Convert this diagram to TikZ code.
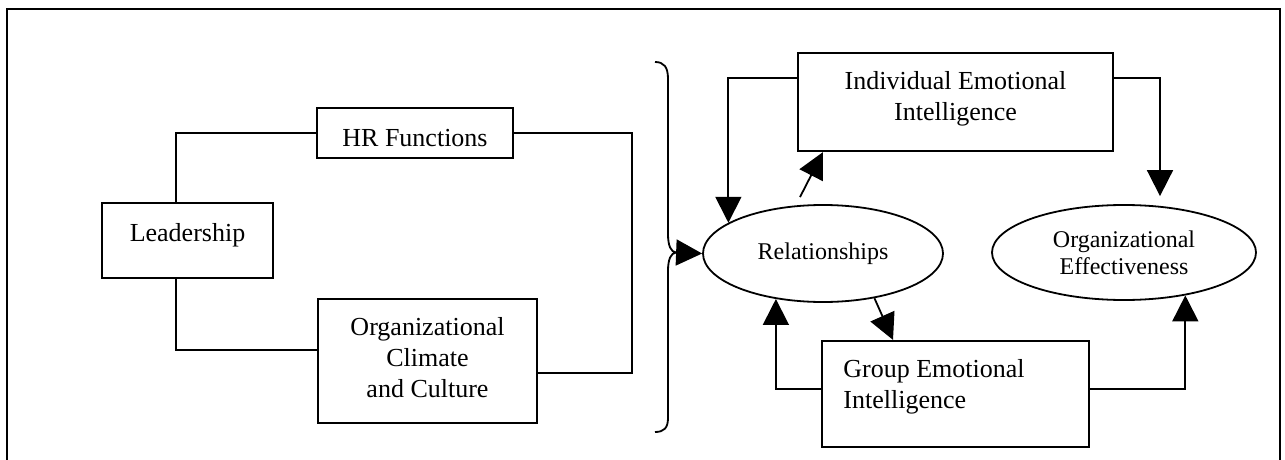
\documentclass[tikz,border=0pt]{standalone}
\usepackage{fontspec}
\setmainfont{Liberation Serif}
\usetikzlibrary{arrows.meta,shapes.geometric}

\tikzset{
  boxnode/.style={draw, line width=1.1pt, rectangle, inner sep=0pt},
  ovalnode/.style={draw, line width=0.9pt, ellipse, inner sep=0pt, align=center,
                   font=\fontsize{12}{13.5}\selectfont},
  % multi-line texts are placed by the baseline of their last line
  boxtext/.style={inner sep=0pt, anchor=base, align=center,
                  font=\fontsize{13}{15.3}\selectfont},
  link/.style={line width=0.9pt},
  arrowlink/.style={line width=0.9pt, -{Triangle[length=13pt,width=13pt]}},
  frameline/.style={line width=1.2pt},
}

\begin{document}
\begin{tikzpicture}[x=0.5pt,y=-0.5pt]
  \useasboundingbox (0,0) rectangle (1285,460);

  % outer frame, open at the bottom
  \draw[frameline] (7,470) -- (7,9) -- (1280,9) -- (1280,470);

  % left-hand boxes
  \node[boxnode, minimum width=85.5pt, minimum height=37.5pt] (lead) at (187.5,240.5) {};
  \node[boxtext] (leadtext) at (187.5,242) {Leadership};

  \node[boxnode, minimum width=98pt, minimum height=25pt] (hr) at (415,133) {};
  \node[boxtext] (hrtext) at (415,147) {HR Functions};

  \node[boxnode, minimum width=109.5pt, minimum height=62pt] (org) at (427.5,361) {};
  \node[boxtext] (orgtext) at (427.5,397) {Organizational\\Climate\\and Culture};

  % right-hand boxes and ellipses
  \node[boxnode, minimum width=157.5pt, minimum height=49pt] (iei) at (955.5,102) {};
  \node[boxtext] (ieitext) at (955.5,120) {Individual Emotional\\Intelligence};

  \node[boxnode, minimum width=133.5pt, minimum height=53pt] (grp) at (955.5,394) {};
  \node[boxtext, anchor=base west, align=left] (grptext) at (843,408) {Group Emotional\\Intelligence};

  \node[ovalnode, minimum width=120pt, minimum height=48.5pt] (rel) at (823,253.5) {Relationships};
  \node[ovalnode, minimum width=132pt, minimum height=47.5pt] (oe) at (1124,252.5) {Organizational\\Effectiveness};

  % guide points for the connectors
  \coordinate (lv) at (176,0);
  \coordinate (rv) at (632,373);
  \coordinate (bt) at (676,252.5);

  % connectors on the left
  \draw[link] (lead.north -| lv) |- (hr.west);
  \draw[link] (lead.south -| lv) |- ([yshift=5.5pt]org.west);
  \draw[link] (hr.east) -| (rv) -- (org.east |- rv);

  % curly brace gathering the left-hand factors
  \draw[line width=0.9pt]
    (655,62) .. controls (664,62) and (668,67) .. (668,79)
    -- (668,234) .. controls (668,246) and (671,252) .. (bt)
    .. controls (671,253) and (668,259) .. (668,271)
    -- (668,418) .. controls (668,428) and (664,432) .. (655,432);

  % arrows on the right
  \draw[arrowlink] (bt) -- (rel.west);
  \draw[arrowlink] ([yshift=12pt]iei.west) -| (rel.162);
  \draw[arrowlink] ([xshift=-11.5pt,yshift=3.5pt]rel.north) -- ([xshift=-66.25pt]iei.south);
  \draw[arrowlink] (rel.-41.4) -- ([xshift=-31.25pt]grp.north);
  \draw[arrowlink] ([yshift=2.5pt]grp.west) -| (rel.-136.5);
  \draw[arrowlink] ([yshift=12pt]iei.east) -| ([xshift=18pt,yshift=4pt]oe.north);
  \draw[arrowlink] ([yshift=2.5pt]grp.east) -| (oe.-35.2);
\end{tikzpicture}
\end{document}
